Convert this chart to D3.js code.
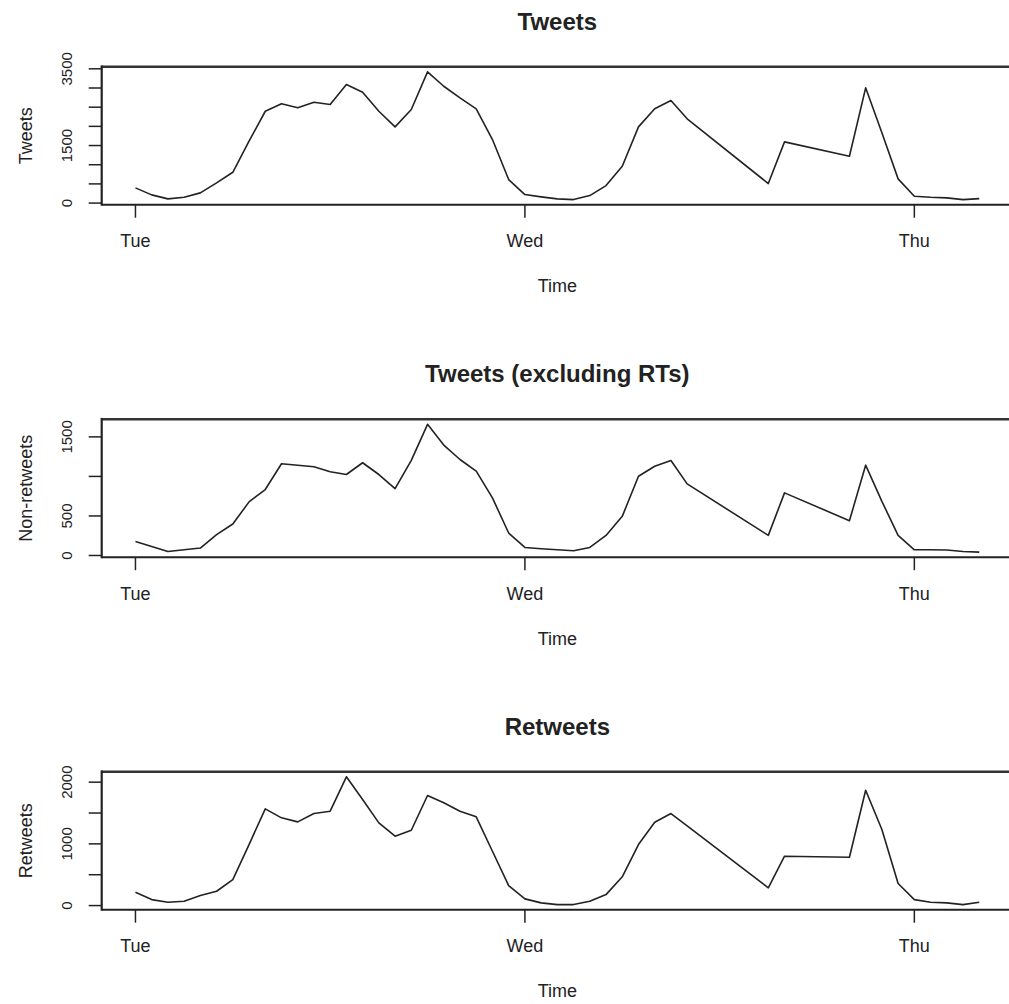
<!DOCTYPE html>
<html>

<head>
  <meta charset="utf-8">
  <title>Tweets over time</title>
  <style>
    body {
      margin: 0;
      background: #ffffff;
    }

    svg text {
      font-family: "Liberation Sans", Arial, Helvetica, sans-serif;
      fill: #222222;
    }

    text.panel-title {
      font-size: 24px;
      font-weight: bold;
    }

    text.axis-title {
      font-size: 18px;
    }

    text.x-label {
      font-size: 18px;
    }

    text.y-label {
      font-size: 15px;
    }
  </style>
</head>

<body>
  <script src="https://cdn.jsdelivr.net/npm/d3@7"></script>
  <script>
    // hours since Tue 00:00 (some hours are missing in the series)
    var hours = [0, 1, 2, 3, 4, 5, 6, 7, 8, 9, 10, 11, 12, 13, 14, 15, 16, 17, 18, 19,
      20, 21, 22, 23, 24, 25, 26, 27, 28, 29, 30, 31, 32, 33, 34, 39, 40,
      44, 45, 46, 47, 48, 49, 50, 51, 52];

    var tweets = [396, 214, 110, 151, 266, 527, 803, 1612, 2394, 2587, 2483, 2629, 2569, 3090, 2890,
      2394, 1987, 2438, 3422, 3046, 2744, 2457, 1656, 613, 222, 162, 110, 91, 196, 456, 960,
      1987, 2457, 2673, 2196, 509, 1596, 1221, 3004, 1831, 631, 177, 151, 136, 91, 117];

    var nonRetweets = [178, 114, 51, 72, 94, 263, 398, 678, 834, 1160, 1142, 1122, 1058, 1024, 1173,
      1024, 846, 1202, 1659, 1396, 1214, 1066, 728, 284, 102, 85, 72, 60, 102, 254, 495,
      1002, 1129, 1202, 906, 254, 792, 440, 1142, 685, 254, 72, 72, 69, 51, 43];

    var retweets = [216, 97, 54, 70, 162, 232, 422, 989, 1568, 1422, 1357, 1492, 1530, 2087, 1719,
      1341, 1124, 1221, 1784, 1666, 1530, 1439, 881, 324, 109, 44, 16, 16, 70, 178, 466,
      989, 1351, 1492, 1290, 287, 800, 783, 1870, 1233, 357, 97, 54, 44, 16, 54];

    var dayTicks = [0, 24, 48];
    var dayLabels = ['Tue', 'Wed', 'Thu'];

    var panelTitles = ['Tweets', 'Tweets (excluding RTs)', 'Retweets'];
    var yTitles = ['Tweets', 'Non-retweets', 'Retweets'];
    var yTicks = [
      [0, 500, 1000, 1500, 2000, 2500, 3000, 3500],
      [0, 500, 1000, 1500],
      [0, 500, 1000, 1500, 2000]
    ];
    var yLabelled = [
      [0, 1500, 3500],
      [0, 500, 1500],
      [0, 1000, 2000]
    ];
    var series = [tweets, nonRetweets, retweets];

    var W = 1009,
      H = 1004;
    var plot = {
      left: 101.7,
      right: 1013,
      top: 66.7,
      height: 138,
      step: 352.5
    };

    var svg = d3.select('body')
      .append('svg')
      .attr('width', W)
      .attr('height', H);

    // R style 4% padding on the x range
    var xPad = 0.04 * (d3.max(hours) - d3.min(hours));
    var x = d3.scaleLinear()
      .domain([d3.min(hours) - xPad, d3.max(hours) + xPad])
      .range([plot.left, plot.right]);

    var cx = (plot.left + plot.right) / 2;

    series.forEach(function(values, i) {
      var top = plot.top + i * plot.step;
      var bottom = top + plot.height;

      var lo = d3.min(values),
        hi = d3.max(values),
        pad = 0.04 * (hi - lo);
      var y = d3.scaleLinear()
        .domain([lo - pad, hi + pad])
        .range([bottom, top]);

      var g = svg.append('g').attr('class', 'panel');

      // data line
      var line = d3.line()
        .x(function(d) { return x(d[0]); })
        .y(function(d) { return y(d[1]); });

      g.append('path')
        .datum(hours.map(function(h, k) { return [h, values[k]]; }))
        .attr('d', line)
        .attr('fill', 'none')
        .attr('stroke', '#222222')
        .attr('stroke-width', 1.6)
        .attr('stroke-linejoin', 'round');

      // box (right side falls outside the picture)
      g.append('line')
        .attr('x1', plot.left).attr('x2', plot.right + 2)
        .attr('y1', top).attr('y2', top)
        .attr('stroke', '#333333').attr('stroke-width', 2.6);
      g.append('line')
        .attr('x1', plot.left).attr('x2', plot.right + 2)
        .attr('y1', bottom).attr('y2', bottom)
        .attr('stroke', '#222222').attr('stroke-width', 2);
      g.append('line')
        .attr('x1', plot.left).attr('x2', plot.left)
        .attr('y1', top - 1.3).attr('y2', bottom + 1)
        .attr('stroke', '#222222').attr('stroke-width', 2.2);
      g.append('line')
        .attr('x1', plot.right).attr('x2', plot.right)
        .attr('y1', top).attr('y2', bottom)
        .attr('stroke', '#222222').attr('stroke-width', 2);

      // y axis ticks
      g.selectAll('line.ytick')
        .data(yTicks[i])
        .enter()
        .append('line')
        .attr('class', 'ytick')
        .attr('x1', plot.left - 13)
        .attr('x2', plot.left)
        .attr('y1', function(d) { return y(d); })
        .attr('y2', function(d) { return y(d); })
        .attr('stroke', '#222222')
        .attr('stroke-width', 1.5);

      g.selectAll('text.y-label')
        .data(yLabelled[i])
        .enter()
        .append('text')
        .attr('class', 'y-label')
        .attr('text-anchor', 'middle')
        .attr('transform', function(d) {
          return 'translate(' + (plot.left - 30) + ',' + y(d) + ') rotate(-90)';
        })
        .text(function(d) { return d; });

      // x axis ticks
      g.selectAll('line.xtick')
        .data(dayTicks)
        .enter()
        .append('line')
        .attr('class', 'xtick')
        .attr('x1', function(d) { return x(d); })
        .attr('x2', function(d) { return x(d); })
        .attr('y1', bottom)
        .attr('y2', bottom + 13)
        .attr('stroke', '#222222')
        .attr('stroke-width', 1.5);

      g.selectAll('text.x-label')
        .data(dayTicks)
        .enter()
        .append('text')
        .attr('class', 'x-label')
        .attr('text-anchor', 'middle')
        .attr('x', function(d) { return x(d); })
        .attr('y', bottom + 42.5)
        .text(function(d, k) { return dayLabels[k]; });

      // titles
      g.append('text')
        .attr('class', 'panel-title')
        .attr('text-anchor', 'middle')
        .attr('x', cx)
        .attr('y', top - 37)
        .text(panelTitles[i]);

      g.append('text')
        .attr('class', 'axis-title')
        .attr('text-anchor', 'middle')
        .attr('x', cx)
        .attr('y', bottom + 87.5)
        .text('Time');

      g.append('text')
        .attr('class', 'axis-title')
        .attr('text-anchor', 'middle')
        .attr('transform', 'translate(31.5,' + ((top + bottom) / 2) + ') rotate(-90)')
        .text(yTitles[i]);
    });
  </script>
</body>

</html>
